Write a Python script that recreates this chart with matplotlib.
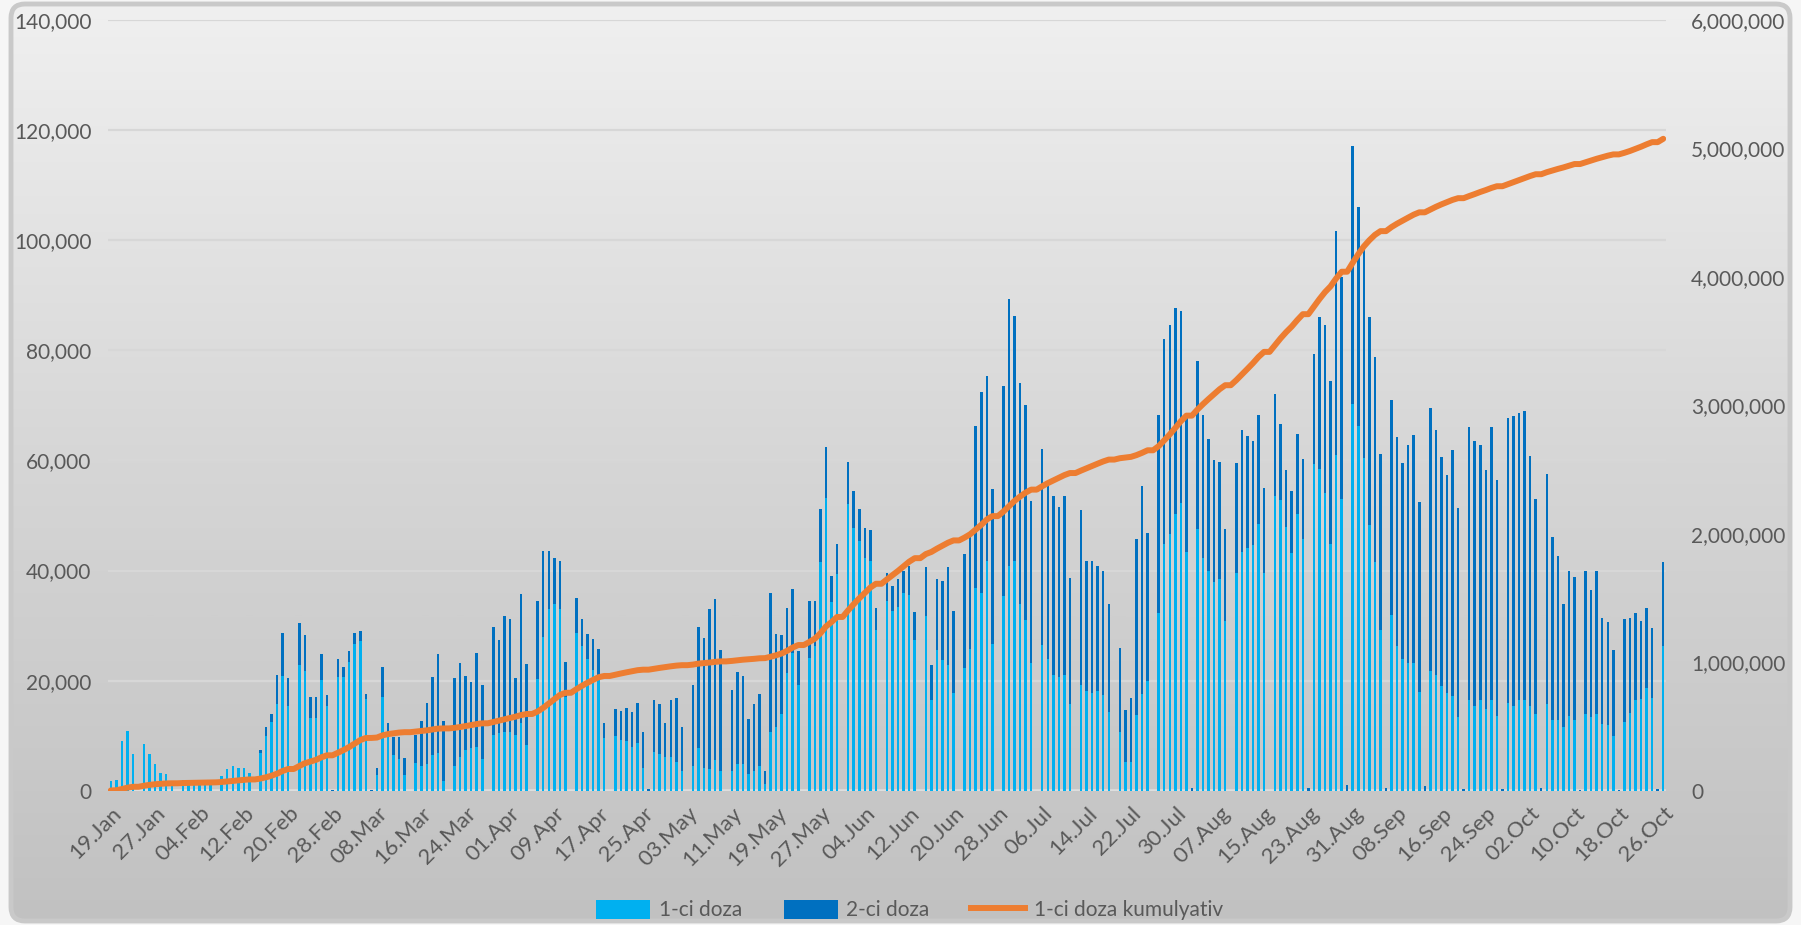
import numpy as np
import pandas as pd
import matplotlib
matplotlib.use("Agg")
import matplotlib.pyplot as plt
from matplotlib.colors import LinearSegmentedColormap
from matplotlib.patches import Patch, FancyBboxPatch
from matplotlib.lines import Line2D
from matplotlib.ticker import FuncFormatter

# ---------------- data (thousands of doses per day) ----------------
start_date = "2021-01-19"

dose1_k = [
    1.8, 2.0, 9.0, 10.9, 6.7, 0, 8.5, 6.7, 4.9, 3.2,
    3.0, 1.0, 0, 2.0, 1.0, 1.2, 1.0, 1.0, 1.2, 0,
    2.7, 3.9, 4.4, 4.2, 4.2, 3.2, 0, 6.8, 10.0, 12.5,
    15.8, 20.9, 15.3, 0, 22.9, 21.8, 13.2, 13.2, 20.1, 15.4,
    0, 20.6, 20.6, 23.3, 26.7, 27.2, 16.7, 0, 2.9, 17.1,
    9.8, 6.4, 5.8, 2.9, 0, 5.1, 4.4, 4.8, 6.5, 6.8,
    1.8, 0, 4.5, 6.2, 7.4, 7.7, 8.0, 5.8, 0, 10.1,
    10.4, 10.6, 10.6, 10.1, 12.3, 8.3, 0, 20.3, 28.0, 33.0,
    33.9, 33.0, 17.0, 0, 28.7, 26.2, 23.9, 21.9, 20.7, 9.6,
    0, 9.9, 9.3, 9.0, 8.0, 8.7, 4.1, 0, 7.1, 6.7,
    6.2, 6.2, 5.3, 3.5, 0, 4.5, 7.8, 4.1, 3.9, 5.6,
    3.6, 0, 3.6, 4.8, 4.8, 3.0, 3.6, 4.4, 1.2, 10.7,
    11.6, 13.9, 21.3, 25.1, 19.2, 0, 24.1, 26.2, 41.6, 53.2,
    34.2, 39.4, 0, 52.1, 47.8, 45.3, 42.2, 41.7, 29.2, 0,
    34.5, 32.7, 33.4, 36.0, 35.5, 27.4, 0, 31.8, 16.5, 25.5,
    23.7, 22.8, 17.8, 0, 22.3, 25.8, 36.9, 36.0, 41.7, 26.6,
    0, 35.4, 40.9, 41.8, 33.9, 31.0, 23.2, 0, 26.4, 24.0,
    21.1, 20.6, 21.1, 15.8, 0, 19.2, 18.1, 17.7, 18.1, 17.4,
    14.3, 0, 10.6, 5.3, 5.3, 13.7, 17.6, 19.9, 0, 32.3,
    44.8, 46.7, 50.2, 52.3, 43.4, 0, 47.6, 42.2, 39.9, 37.9,
    38.4, 30.9, 0, 39.5, 43.4, 44.0, 44.6, 48.5, 39.5, 0,
    53.5, 52.8, 47.9, 43.2, 50.3, 45.8, 0, 59.3, 58.4, 54.1,
    44.9, 60.9, 52.9, 0, 70.2, 66.3, 60.5, 48.3, 41.5, 29.2,
    0, 31.9, 26.3, 23.9, 23.2, 23.2, 17.9, 0, 21.8, 21.1,
    19.1, 17.7, 17.2, 13.3, 0, 16.5, 15.4, 16.4, 14.8, 16.4,
    13.5, 0, 16.0, 15.4, 16.4, 16.4, 15.3, 13.9, 0, 15.8,
    12.8, 12.8, 11.5, 13.6, 12.8, 0, 13.9, 13.3, 13.9, 12.2,
    11.9, 9.9, 0, 12.5, 14.2, 16.4, 16.7, 18.6, 16.9, 0,
    26.2,
]

dose2_k = [
    0, 0, 0, 0, 0, 0, 0, 0, 0, 0,
    0, 0, 0, 0, 0, 0, 0, 0, 0, 0,
    0, 0, 0, 0, 0, 0, 0, 0.6, 1.6, 1.4,
    5.3, 7.7, 5.1, 0, 7.6, 6.5, 3.9, 3.9, 4.7, 1.9,
    0.2, 3.3, 1.8, 2.0, 1.9, 1.8, 0.8, 0.2, 1.2, 5.3,
    2.5, 3.4, 4.0, 3.0, 0, 5.0, 8.3, 11.2, 14.1, 18.0,
    10.9, 0, 15.9, 17.0, 13.5, 12.0, 17.0, 13.4, 0, 19.6,
    17.0, 21.2, 20.6, 10.3, 23.5, 14.7, 0, 14.1, 15.6, 10.6,
    8.3, 8.8, 6.3, 0, 6.3, 5.0, 4.6, 5.7, 5.0, 2.7,
    0, 4.9, 5.2, 6.0, 6.3, 7.3, 6.5, 0.3, 9.3, 9.0,
    6.1, 10.2, 11.6, 8.0, 0, 14.7, 21.9, 23.7, 29.1, 29.2,
    22.0, 0, 14.7, 16.7, 16.1, 10.0, 12.2, 13.2, 2.4, 25.3,
    16.9, 14.4, 11.9, 11.5, 6.1, 0, 10.3, 8.3, 9.6, 9.3,
    4.8, 5.4, 0, 7.6, 6.7, 5.9, 5.5, 5.7, 4.0, 0,
    5.1, 4.4, 5.1, 4.0, 5.3, 5.1, 0, 8.8, 6.4, 13.0,
    14.4, 17.8, 14.9, 0, 20.7, 20.5, 29.4, 36.5, 33.6, 28.2,
    0, 38.1, 48.4, 44.4, 40.1, 39.0, 29.4, 0, 35.6, 31.3,
    32.5, 31.0, 32.5, 22.9, 0, 31.7, 23.7, 24.1, 22.8, 22.5,
    19.6, 0, 15.4, 9.4, 11.5, 32.0, 37.8, 27.0, 0, 36.0,
    37.2, 37.9, 37.4, 34.8, 24.8, 0.4, 30.4, 26.1, 24.0, 22.2,
    21.3, 16.7, 0, 20.0, 22.1, 20.4, 19.0, 19.8, 15.5, 0,
    18.5, 13.9, 10.3, 11.3, 14.5, 14.5, 0.4, 20.0, 27.7, 30.5,
    29.5, 40.7, 40.4, 1.1, 47.0, 39.8, 38.0, 37.8, 37.3, 31.9,
    0.5, 39.0, 37.9, 35.6, 39.6, 41.4, 34.6, 0.8, 47.7, 44.4,
    41.6, 39.7, 44.6, 38.1, 0.3, 49.5, 48.2, 46.4, 43.4, 49.6,
    42.9, 0.3, 51.7, 52.7, 52.3, 52.6, 45.5, 39.1, 0.5, 41.8,
    33.2, 29.9, 22.4, 26.3, 26.0, 0.2, 26.0, 23.2, 26.0, 19.1,
    18.7, 15.6, 0.2, 18.6, 17.1, 15.8, 14.2, 14.5, 12.6, 0.3,
    15.3,
]

left_ticks = [0, 20000, 40000, 60000, 80000, 100000, 120000, 140000]
right_ticks = [0, 1000000, 2000000, 3000000, 4000000, 5000000, 6000000]
series_names = ["1-ci doza", "2-ci doza", "1-ci doza kumulyativ"]
tick_every = 8

# ---------------- derived ----------------
n = len(dose1_k)
dates = pd.date_range(start_date, periods=n, freq="D")
dose1 = np.array(dose1_k) * 1000.0
dose2 = np.array(dose2_k) * 1000.0
cumulative = np.cumsum(dose1)
xpos = np.arange(n)

# ---------------- style ----------------
plt.rcParams["font.family"] = ["Lato", "DejaVu Sans"]
TXT = "#595959"
C1 = "#00B0F0"
C2 = "#0070C0"
C3 = "#ED7D31"
GRID = "#d7d7d7"

W, H = 1801, 925
fig = plt.figure(figsize=(W / 100, H / 100), dpi=100)
fig.patch.set_facecolor("#f6f6f6")

# gradient background inside a rounded frame
bg = fig.add_axes([0, 0, 1, 1], zorder=-10)
bg.set_xlim(0, W)
bg.set_ylim(0, H)
bg.axis("off")
grad = np.linspace(0, 1, 512).reshape(-1, 1)
cmap = LinearSegmentedColormap.from_list("bg", ["#f0f0f0", "#d6d6d6", "#c1c1c1"])
frame = FancyBboxPatch((11, 4), W - 22, H - 8,
                       boxstyle="round,pad=0,rounding_size=14",
                       facecolor="none", edgecolor="#c9c9c9", lw=3.5)
bg.add_patch(frame)
im = bg.imshow(grad, aspect="auto", cmap=cmap, extent=[0, W, 0, H], origin="upper")
im.set_clip_path(frame)

x0, x1 = 108, 1666
y0, y1 = 790.7, 20
ax = fig.add_axes([x0 / W, 1 - y0 / H, (x1 - x0) / W, (y0 - y1) / H])
ax.patch.set_alpha(0)

ax.bar(xpos, dose1, width=0.45, color=C1, zorder=2)
ax.bar(xpos, dose2, bottom=dose1, width=0.45, color=C2, zorder=2)

ax.set_xlim(-0.5, n - 0.5)
ax.set_ylim(0, 140000)
ax.set_yticks(left_ticks)
ax.yaxis.set_major_formatter(FuncFormatter(lambda v, p: f"{v:,.0f}"))
ax.yaxis.grid(True, color=GRID, lw=1.6)
ax.set_axisbelow(True)
for s in ax.spines.values():
    s.set_visible(False)
ax.axhline(0, color="#dedede", lw=2.6, zorder=1.5)

ax.set_xticks(xpos[::tick_every])
ax.set_xticklabels([d.strftime("%d.%b") for d in dates[::tick_every]],
                   rotation=45, ha="right", rotation_mode="anchor")
ax.tick_params(axis="x", length=0, pad=9, labelsize=16, labelcolor=TXT)
ax.tick_params(axis="y", length=0, pad=12, labelsize=15, labelcolor=TXT)

ax2 = ax.twinx()
ax2.plot(xpos, cumulative, color=C3, lw=4.3, solid_capstyle="round", zorder=3)
ax2.set_ylim(0, 6000000)
ax2.set_yticks(right_ticks)
ax2.yaxis.set_major_formatter(FuncFormatter(lambda v, p: f"{v:,.0f}"))
for s in ax2.spines.values():
    s.set_visible(False)
ax2.tick_params(axis="y", length=0, pad=18, labelsize=15, labelcolor=TXT)

handles = [Patch(facecolor=C1, edgecolor="none"),
           Patch(facecolor=C2, edgecolor="none"),
           Line2D([0], [0], color=C3, lw=4.3)]
fig.legend(handles, series_names, loc="center", bbox_to_anchor=(0.505, 0.016),
           ncol=3, frameon=False, fontsize=15, labelcolor=TXT,
           handlelength=2.6, handleheight=1.0, columnspacing=2.0,
           handletextpad=0.4)

fig.savefig("out.png", dpi=100, facecolor=fig.get_facecolor())
